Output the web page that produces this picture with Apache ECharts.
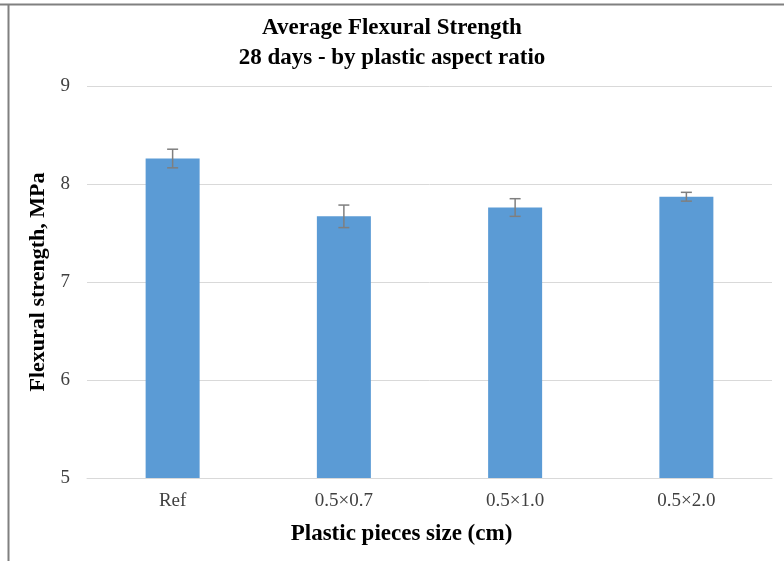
<!DOCTYPE html>
<html>
<head>
<meta charset="utf-8">
<script src="https://cdn.jsdelivr.net/npm/echarts@6/dist/echarts.min.js"></script>
<style>
html,body{margin:0;padding:0;background:#fff;}
#chart{width:784px;height:561px;}
</style>
</head>
<body>
<div id="chart"></div>
<script>
const categories = ['Ref', '0.5×0.7', '0.5×1.0', '0.5×2.0'];
const strengthValues = [8.26, 7.67, 7.76, 7.87];
const errorValues = [0.095, 0.115, 0.09, 0.045];
const yTicks = [5, 6, 7, 8, 9];

const serif = "'Liberation Serif', 'Times New Roman', serif";
const chart = echarts.init(document.getElementById('chart'), null, {renderer: 'canvas'});

const errorData = categories.map((c, i) => [i, strengthValues[i] - errorValues[i], strengthValues[i] + errorValues[i]]);

chart.setOption({
  animation: false,
  backgroundColor: '#ffffff',
  title: {
    text: 'Average Flexural Strength\n28 days - by plastic aspect ratio',
    left: 'center',
    top: 8,
    textStyle: {fontFamily: serif, fontSize: 23, fontWeight: 'bold', color: '#000', lineHeight: 30}
  },
  graphic: [
    {type: 'line', shape: {x1: 0, y1: 4.5, x2: 784, y2: 4.5}, style: {stroke: '#808080', lineWidth: 2}, silent: true},
    {type: 'line', shape: {x1: 8.5, y1: 4, x2: 8.5, y2: 561}, style: {stroke: '#808080', lineWidth: 2}, silent: true}
  ],
  grid: {left: 87, right: 12, top: 86, bottom: 83, containLabel: false},
  xAxis: {
    type: 'category',
    data: categories,
    name: 'Plastic pieces size (cm)',
    nameLocation: 'middle',
    nameGap: 45,
    nameTextStyle: {fontFamily: serif, fontSize: 23, fontWeight: 'bold', color: '#000', padding: [0, 56, 0, 0]},
    axisLine: {show: true, lineStyle: {color: '#d9d9d9', width: 1}},
    axisTick: {show: false},
    axisLabel: {fontFamily: serif, fontSize: 19, color: '#404040', margin: 14}
  },
  yAxis: {
    type: 'value',
    min: yTicks[0],
    max: yTicks[yTicks.length - 1],
    interval: 1,
    name: 'Flexural strength, MPa',
    nameLocation: 'middle',
    nameGap: 37,
    nameTextStyle: {fontFamily: serif, fontSize: 22, fontWeight: 'bold', color: '#000'},
    axisLine: {show: false},
    axisTick: {show: false},
    axisLabel: {fontFamily: serif, fontSize: 19, color: '#404040', margin: 17},
    splitLine: {show: true, lineStyle: {color: '#d9d9d9', width: 1}}
  },
  series: [
    {
      type: 'bar',
      data: strengthValues,
      barWidth: 54,
      itemStyle: {color: '#5b9bd5'},
      z: 2
    },
    {
      type: 'custom',
      data: errorData,
      z: 3,
      renderItem: function (params, api) {
        const idx = api.value(0);
        const low = api.coord([idx, api.value(1)]);
        const high = api.coord([idx, api.value(2)]);
        const hw = 5.5;
        const style = {stroke: '#7f7f7f', lineWidth: 1.5, fill: null};
        return {
          type: 'group',
          children: [
            {type: 'line', shape: {x1: high[0], y1: high[1], x2: low[0], y2: low[1]}, style: style},
            {type: 'line', shape: {x1: high[0] - hw, y1: high[1], x2: high[0] + hw, y2: high[1]}, style: style},
            {type: 'line', shape: {x1: low[0] - hw, y1: low[1], x2: low[0] + hw, y2: low[1]}, style: style}
          ]
        };
      }
    }
  ]
});
</script>
</body>
</html>
